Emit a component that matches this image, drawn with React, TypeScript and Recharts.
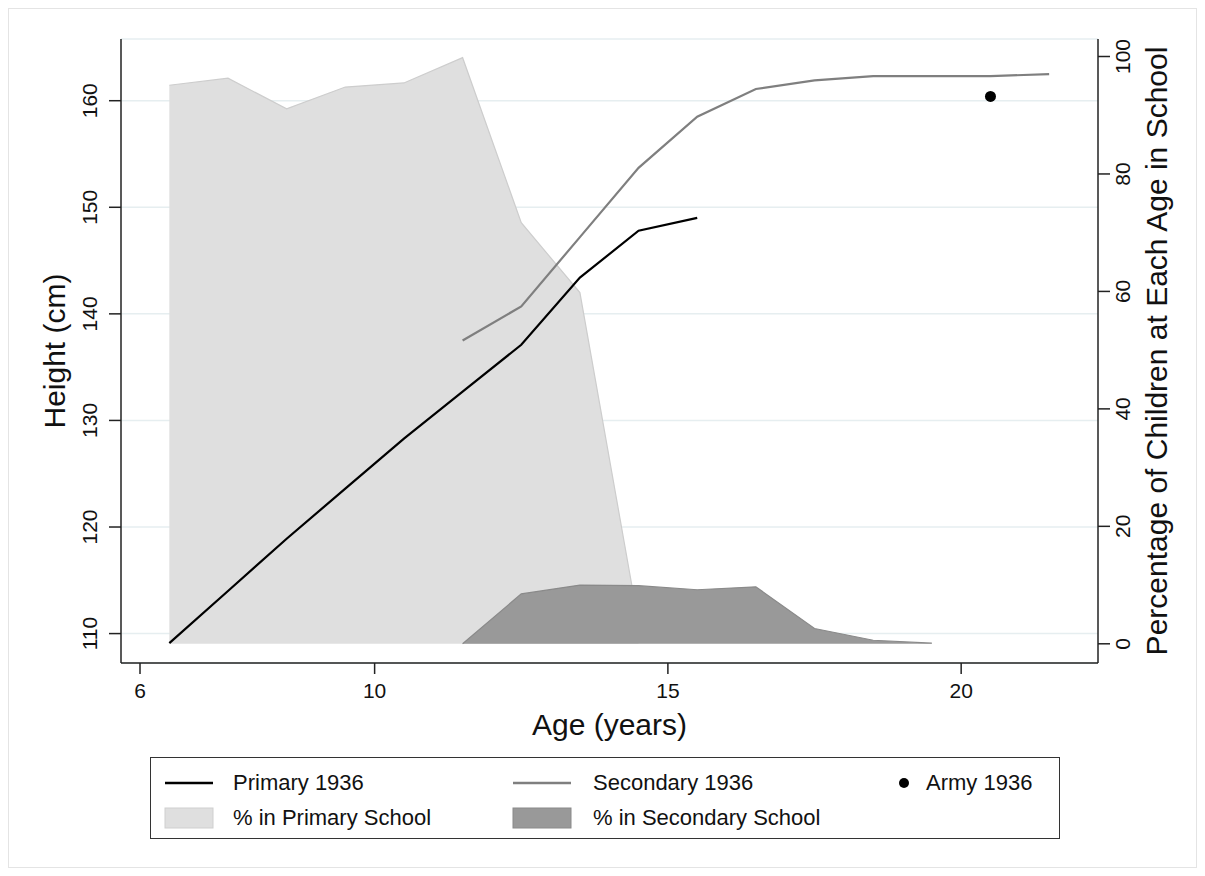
import React from "react"
import { ComposedChart, Area, Line, Scatter, XAxis, YAxis, CartesianGrid } from "recharts"

// ages (mid-year) for every series
const ages = [6.5, 7.5, 8.5, 9.5, 10.5, 11.5, 12.5, 13.5, 14.5, 15.5, 16.5, 17.5, 18.5, 19.5, 20.5, 21.5]

// heights in cm (left axis)
const primaryHeight = [109.1, 114.0, 118.9, 123.6, 128.3, 132.7, 137.1, 143.4, 147.8, 149.0, null, null, null, null, null, null]
const secondaryHeight = [null, null, null, null, null, 137.5, 140.7, 147.2, 153.7, 158.5, 161.1, 161.9, 162.3, 162.3, 162.3, 162.5]

// % of children in school (right axis)
const primaryPct = [95.1, 96.3, 91.1, 94.8, 95.5, 99.8, 71.7, 59.8, 3.5, null, null, null, null, null, null, null]
const secondaryPct = [null, null, null, null, null, 0, 8.5, 10.0, 9.9, 9.2, 9.7, 2.6, 0.6, 0.1, null, null]

const armyAge = [20.5]
const armyHeight = [160.4]

const xTicks = [6, 10, 15, 20]
const leftTicks = [110, 120, 130, 140, 150, 160]
const rightTicks = [0, 20, 40, 60, 80, 100]

const data = ages.map((age, i) => ({
  age,
  primaryHeight: primaryHeight[i],
  secondaryHeight: secondaryHeight[i],
  primaryPct: primaryPct[i],
  secondaryPct: secondaryPct[i],
}))

const armyData = armyAge.map((age, i) => ({ age, army: armyHeight[i] }))

const FONT = "'Liberation Sans', Arial, Helvetica, sans-serif"
const AXIS = "#222"
const W = 1189
const H = 860

const LeftTick = ({ y, payload }: any) => (
  <text x={89} y={y} transform={`rotate(-90 89 ${y})`} textAnchor="middle" fontSize={21} fill="#111" fontFamily={FONT}>
    {payload.value}
  </text>
)

const RightTick = ({ y, payload }: any) => (
  <text x={1122} y={y} transform={`rotate(-90 1122 ${y})`} textAnchor="middle" fontSize={21} fill="#111" fontFamily={FONT}>
    {payload.value}
  </text>
)

const BottomTick = ({ x, payload }: any) => (
  <text x={x} y={690} textAnchor="middle" fontSize={21} fill="#111" fontFamily={FONT}>
    {payload.value}
  </text>
)

function LegendBox() {
  const txt: React.CSSProperties = { position: "absolute", fontSize: 22, fontFamily: FONT, color: "#111", lineHeight: "22px" }
  return (
    <div style={{ position: "absolute", left: 142, top: 749, width: 910, height: 82, border: "1.5px solid #333", boxSizing: "border-box" }}>
      <svg width={910} height={82} style={{ position: "absolute", left: 0, top: 0 }}>
        <line x1={14} x2={62} y1={25} y2={25} stroke="#000" strokeWidth={2.5} />
        <line x1={362} x2={420} y1={25} y2={25} stroke="#7f7f7f" strokeWidth={2.5} />
        <circle cx={753} cy={25} r={5} fill="#000" />
        <rect x={14} y={50} width={48} height={20} fill="#dfdfdf" stroke="#cfcfcf" />
        <rect x={362} y={50} width={58} height={20} fill="#999" stroke="#8a8a8a" />
      </svg>
      <span style={{ ...txt, left: 82, top: 14 }}>Primary 1936</span>
      <span style={{ ...txt, left: 442, top: 14 }}>Secondary 1936</span>
      <span style={{ ...txt, left: 775, top: 14 }}>Army 1936</span>
      <span style={{ ...txt, left: 82, top: 49 }}>% in Primary School</span>
      <span style={{ ...txt, left: 442, top: 49 }}>% in Secondary School</span>
    </div>
  )
}

export default function App() {
  return (
    <div style={{ position: "relative", width: W, height: H, outline: "1px solid #e4e4e4", outlineOffset: -1, background: "#fff" }}>
      <ComposedChart width={W} height={H} data={data} margin={{ top: 31, right: 19, bottom: 145, left: 33 }}>
        <CartesianGrid yAxisId="left" vertical={false} stroke="#e6eef0" strokeWidth={1.5} />
        <XAxis
          type="number"
          dataKey="age"
          domain={[5.676, 22.333]}
          ticks={xTicks}
          allowDataOverflow
          height={60}
          tick={<BottomTick />}
          tickSize={11}
          axisLine={{ stroke: AXIS, strokeWidth: 1.5 }}
          tickLine={{ stroke: AXIS, strokeWidth: 1.5 }}
        />
        <YAxis
          yAxisId="left"
          orientation="left"
          domain={[107.24, 165.79]}
          ticks={leftTicks}
          allowDataOverflow
          width={80}
          tick={<LeftTick />}
          tickSize={12}
          axisLine={{ stroke: AXIS, strokeWidth: 1.5 }}
          tickLine={{ stroke: AXIS, strokeWidth: 1.5 }}
        />
        <YAxis
          yAxisId="right"
          orientation="right"
          domain={[-3.27, 102.98]}
          ticks={rightTicks}
          allowDataOverflow
          width={80}
          tick={<RightTick />}
          tickSize={12}
          axisLine={{ stroke: AXIS, strokeWidth: 1.5 }}
          tickLine={{ stroke: AXIS, strokeWidth: 1.5 }}
        />
        <Area
          yAxisId="right"
          dataKey="primaryPct"
          type="linear"
          baseValue={0}
          fill="#dfdfdf"
          fillOpacity={1}
          stroke="#cdcdcd"
          strokeWidth={1.2}
          isAnimationActive={false}
        />
        <Area
          yAxisId="right"
          dataKey="secondaryPct"
          type="linear"
          baseValue={0}
          fill="#999999"
          fillOpacity={1}
          stroke="#8a8a8a"
          strokeWidth={1.2}
          isAnimationActive={false}
        />
        <Line yAxisId="left" dataKey="secondaryHeight" type="linear" stroke="#7f7f7f" strokeWidth={2.2} dot={false} isAnimationActive={false} />
        <Line yAxisId="left" dataKey="primaryHeight" type="linear" stroke="#000" strokeWidth={2.2} dot={false} isAnimationActive={false} />
        <Scatter
          yAxisId="left"
          data={armyData}
          dataKey="army"
          fill="#000"
          shape={(p: any) => <circle cx={p.cx} cy={p.cy} r={5.5} fill="#000" />}
          isAnimationActive={false}
        />
      </ComposedChart>
      <svg width={W} height={H} style={{ position: "absolute", left: 0, top: 0, pointerEvents: "none" }}>
        <text x={57} y={343} transform="rotate(-90 57 343)" textAnchor="middle" fontSize={30} fill="#111" fontFamily={FONT}>
          Height (cm)
        </text>
        <text x={1159} y={343} transform="rotate(-90 1159 343)" textAnchor="middle" fontSize={30} fill="#111" fontFamily={FONT}>
          Percentage of Children at Each Age in School
        </text>
        <text x={601.5} y={727} textAnchor="middle" fontSize={30} fill="#111" fontFamily={FONT}>
          Age (years)
        </text>
      </svg>
      <LegendBox />
    </div>
  )
}
